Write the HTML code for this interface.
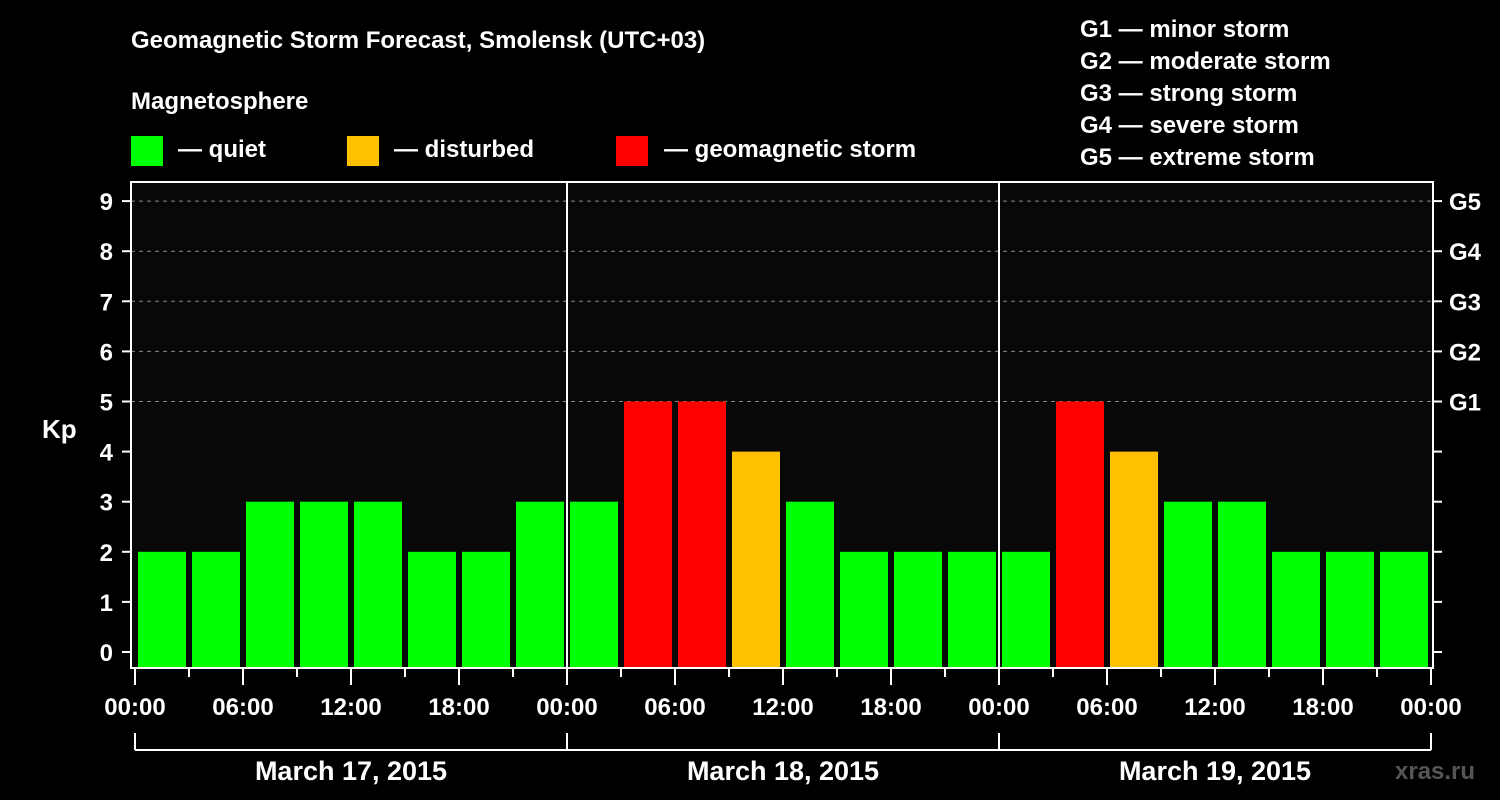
<!DOCTYPE html>
<html><head><meta charset="utf-8"><style>
html,body{margin:0;padding:0;background:#000;}
svg{display:block;font-family:"Liberation Sans",sans-serif;font-weight:bold;}
</style></head><body>
<svg id="chart" width="1500" height="800" xmlns="http://www.w3.org/2000/svg">
<rect x="0" y="0" width="1500" height="800" fill="#000"/>
<text x="131" y="48" fill="#fff" font-size="24">Geomagnetic Storm Forecast, Smolensk (UTC+03)</text>
<text x="131" y="109" fill="#fff" font-size="24">Magnetosphere</text>
<g><rect x="131" y="136" width="32" height="30" fill="#00ff00"/><text x="178" y="157" fill="#fff" font-size="24">— quiet</text></g>
<g><rect x="347" y="136" width="32" height="30" fill="#ffc000"/><text x="394" y="157" fill="#fff" font-size="24">— disturbed</text></g>
<g><rect x="616" y="136" width="32" height="30" fill="#ff0000"/><text x="664" y="157" fill="#fff" font-size="24">— geomagnetic storm</text></g>
<g font-size="24" fill="#fff">
<text x="1080" y="37">G1 — minor storm</text>
<text x="1080" y="69">G2 — moderate storm</text>
<text x="1080" y="101">G3 — strong storm</text>
<text x="1080" y="133">G4 — severe storm</text>
<text x="1080" y="165">G5 — extreme storm</text>
</g>
<rect x="131" y="182" width="1302" height="486" fill="#080808"/>
<g id="grid"></g>
<g id="bars"></g>
<g id="axes"></g>
<rect x="131" y="182" width="1302" height="486" fill="none" stroke="#fff" stroke-width="2"/>
<text x="42" y="438" fill="#fff" font-size="26">Kp</text>
<text x="1395" y="779" fill="#555" font-size="24">xras.ru</text>
</svg>
<script>
const kpValues = [2,2,3,3,3,2,2,3, 3,5,5,4,3,2,2,2, 2,5,4,3,3,2,2,2];
const dayLabels = ["March 17, 2015","March 18, 2015","March 19, 2015"];
const timeLabels = ["00:00","06:00","12:00","18:00"];
const yTicks = [0,1,2,3,4,5,6,7,8,9];
const gLabels = ["G1","G2","G3","G4","G5"];

const NS="http://www.w3.org/2000/svg";
const x0=135, dayW=432, slotW=54;
const xScale = h => x0 + h/24*dayW;
const yScale = v => 652 - v*50.1;
function el(tag, attrs, parent){const e=document.createElementNS(NS,tag);for(const k in attrs)e.setAttribute(k,attrs[k]);parent.appendChild(e);return e;}
const grid=document.getElementById('grid'), bars=document.getElementById('bars'), axes=document.getElementById('axes');
function color(v){return v>=5?'#ff0000':(v>=4?'#ffc000':'#00ff00');}

yTicks.forEach(v=>{
  const y=yScale(v);
  if(v>=5){const l=el('line',{x1:131,x2:1433,y1:y,y2:y,stroke:'#888','stroke-dasharray':'4,4','stroke-width':1},grid);
  
  }
  el('line',{x1:122,x2:131,y1:y,y2:y,stroke:'#fff','stroke-width':2},axes);
  el('line',{x1:1433,x2:1442,y1:y,y2:y,stroke:'#fff','stroke-width':2},axes);
  const t=el('text',{x:113,y:y+9,fill:'#fff','font-size':24,'text-anchor':'end'},axes);
  t.textContent=v;
  
  
});
gLabels.forEach((g,i)=>{
  const t=el('text',{x:1449,y:yScale(5+i)+9,fill:'#fff','font-size':24},axes);
  t.textContent=g;
  
  
});
kpValues.forEach((v,i)=>{
  const xl=xScale(i*3)+3;
  const r=el('rect',{x:xl,y:yScale(v),width:48,height:667-yScale(v),fill:color(v)},bars);
  
  
});
for(let d=1;d<dayLabels.length;d++){
  el('line',{x1:xScale(d*24),x2:xScale(d*24),y1:182,y2:668,stroke:'#fff','stroke-width':2},axes);
}
for(let h=0;h<=72;h+=3){
  const x=xScale(h), major=h%6===0;
  el('line',{x1:x,x2:x,y1:668,y2:major?685:677,stroke:'#fff','stroke-width':2},axes);
  if(major){const t=el('text',{x:x,y:715,fill:'#fff','font-size':24,'text-anchor':'middle'},axes);
  t.textContent=timeLabels[(h/6)%4];
  
  }
}
el('line',{x1:xScale(0),x2:xScale(72),y1:750,y2:750,stroke:'#fff','stroke-width':2},axes);
for(let d=0;d<=dayLabels.length;d++){
  el('line',{x1:xScale(d*24),x2:xScale(d*24),y1:733,y2:750,stroke:'#fff','stroke-width':2},axes);
}
dayLabels.forEach((s,d)=>{
  const t=el('text',{x:xScale(d*24+12),y:780,fill:'#fff','font-size':27,'text-anchor':'middle'},axes);
  t.textContent=s;
  
  
});
</script>
</body></html>
